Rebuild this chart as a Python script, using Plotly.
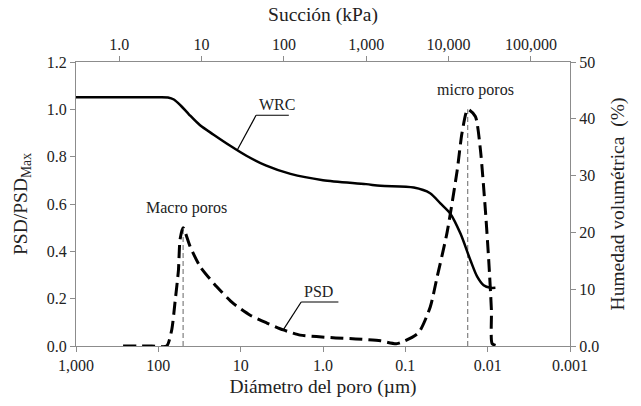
import numpy as np
import plotly.graph_objects as go

# ---------------- data ----------------
# Pore size distribution (diameter in micrometres, normalised PSD)
psd_d = [268, 120, 79, 68.6, 62.5, 57, 54.5, 50, 41.1, 31, 19.5, 12.3, 7.66, 4.8, 3.04,
         1.89, 1.2, 0.7, 0.4, 0.2, 0.126, 0.0695, 0.0497, 0.0412, 0.0311, 0.0235,
         0.0205, 0.0175, 0.0141, 0.01225, 0.01064, 0.0097, 0.009, 0.00883, 0.00767]
psd_v = [0.0, 0.0, 0.0, 0.07, 0.19, 0.32, 0.45, 0.5, 0.42, 0.335, 0.25, 0.18, 0.13, 0.097, 0.068,
         0.046, 0.04, 0.034, 0.03, 0.022, 0.01, 0.055, 0.166, 0.29, 0.48, 0.74,
         0.9, 1.0, 0.97, 0.83, 0.57, 0.36, 0.15, 0.01, 0.0]

# Water retention curve (suction in kPa, volumetric water content %)
wrc_s = [0.298, 1.5, 3.0, 3.9, 4.6, 5.6, 7.0, 9.5, 14.0, 22.0, 35.0, 60.0, 120, 298, 993, 1490, 3772,
         5960, 7947, 10493, 13925, 18395, 22239, 26607, 32147, 37019]
wrc_w = [43.8, 43.8, 43.8, 43.75, 43.4, 42.3, 40.8, 38.9, 37.2, 35.3, 33.5, 31.8, 30.3, 29.2, 28.5, 28.2, 27.9,
         26.9, 25.1, 23.3, 19.8, 15.1, 12.2, 10.7, 10.25, 10.25]

# peak markers (diameter, PSD)
peak_d = [50, 0.0175]
peak_v = [0.49, 1.0]

# axis ticks
d_ticks = [1000, 100, 10, 1, 0.1, 0.01, 0.001]
d_labels = ["1,000", "100", "10", "1.0", "0.1", "0.01", "0.001"]
s_ticks = [1, 10, 100, 1000, 10000, 100000]
s_labels = ["1.0", "10", "100", "1,000", "10,000", "100,000"]
y_ticks = [0, 0.2, 0.4, 0.6, 0.8, 1.0, 1.2]
y_labels = ["0.0", "0.2", "0.4", "0.6", "0.8", "1.0", "1.2"]
w_ticks = [0, 10, 20, 30, 40, 50]
w_labels = ["0.0", "10", "20", "30", "40", "50"]

S_FACTOR = 298.0  # suction (kPa) * diameter (um)
W_TO_PSD = 1.2 / 50.0

FONT = "Liberation Serif"
AX = "#8c8c8c"
TXT = "#222222"

fig = go.Figure()

for d, v in zip(peak_d, peak_v):
    fig.add_trace(go.Scatter(x=[d, d], y=[0, v], mode="lines",
                             line=dict(color="#8a8a8a", width=1.3, dash="5px,3px"),
                             hoverinfo="skip", showlegend=False))

fig.add_trace(go.Scatter(x=psd_d, y=psd_v, mode="lines", line_shape="spline",
                         line=dict(color="black", width=3, dash="13px,6px", smoothing=0.6),
                         showlegend=False))

fig.add_trace(go.Scatter(x=wrc_s, y=wrc_w, mode="lines", line_shape="spline",
                         xaxis="x2", yaxis="y2",
                         line=dict(color="black", width=2.5, smoothing=0.8),
                         showlegend=False))

common = dict(showgrid=False, zeroline=False, showline=True, linecolor=AX, linewidth=1.2,
              ticks="outside", tickcolor=AX, ticklen=5, tickwidth=1,
              tickfont=dict(family=FONT, size=16, color=TXT))
tfont = dict(family=FONT, size=19.5, color=TXT)

fig.update_layout(
    width=641, height=406,
    margin=dict(l=76, r=71, t=62, b=60),
    plot_bgcolor="white", paper_bgcolor="white",
    font=dict(family=FONT, color=TXT),
    xaxis=dict(type="log", range=[3, -3], tickvals=d_ticks, ticktext=d_labels,
               title=dict(text="Diámetro del poro (µm)", font=tfont, standoff=6),
               **common),
    xaxis2=dict(type="log", overlaying="x", side="top", anchor="y2",
                range=[np.log10(S_FACTOR / 1000), np.log10(S_FACTOR / 0.001)],
                tickvals=s_ticks, ticktext=s_labels,
                title=dict(text="Succión (kPa)", font=tfont, standoff=8),
                **common),
    yaxis=dict(range=[0, 1.2], tickvals=y_ticks, ticktext=y_labels,
               title=dict(text="PSD/PSD<sub>Max</sub>", font=tfont, standoff=13),
               **common),
    yaxis2=dict(range=[0, 50], overlaying="y", side="right", anchor="x",
                tickvals=w_ticks, ticktext=w_labels,
                title=dict(text="Humedad volumétrica  (%)", font=tfont, standoff=12),
                **common),
)

ann_font = dict(family=FONT, size=16, color=TXT)
fig.add_annotation(x=np.log10(45), y=0.585, text="Macro poros", showarrow=False, font=ann_font)
fig.add_annotation(x=np.log10(0.0140), y=1.08, text="micro poros", showarrow=False, font=ann_font)

# callouts: text + underline + leader to the curve
def wrc_at(d):
    s = S_FACTOR / d
    return np.interp(np.log10(s), np.log10(wrc_s), wrc_w) * W_TO_PSD

def psd_at(d):
    return np.interp(-np.log10(d), -np.log10(psd_d), psd_v)

callouts = [
    # text, text-left diameter, text-right diameter, underline y, target diameter, target value
    ("WRC", 6.5, 2.6, 0.975, 11.0, wrc_at(11.0)),
    ("PSD", 1.84, 0.65, 0.186, 3.04, psd_at(3.04)),
]
for txt, dl, dr, uy, dt, vt in callouts:
    fig.add_annotation(x=np.log10(dl), y=uy, text=txt, showarrow=False, font=ann_font,
                       xanchor="left", yanchor="bottom", xshift=1)
    fig.add_shape(type="line", xref="x", yref="y", x0=dl, x1=dr, y0=uy, y1=uy,
                  line=dict(color="black", width=1.2))
    fig.add_shape(type="line", xref="x", yref="y", x0=dt, x1=dl, y0=vt, y1=uy,
                  line=dict(color="black", width=1.2))

fig.write_html("out.html")
